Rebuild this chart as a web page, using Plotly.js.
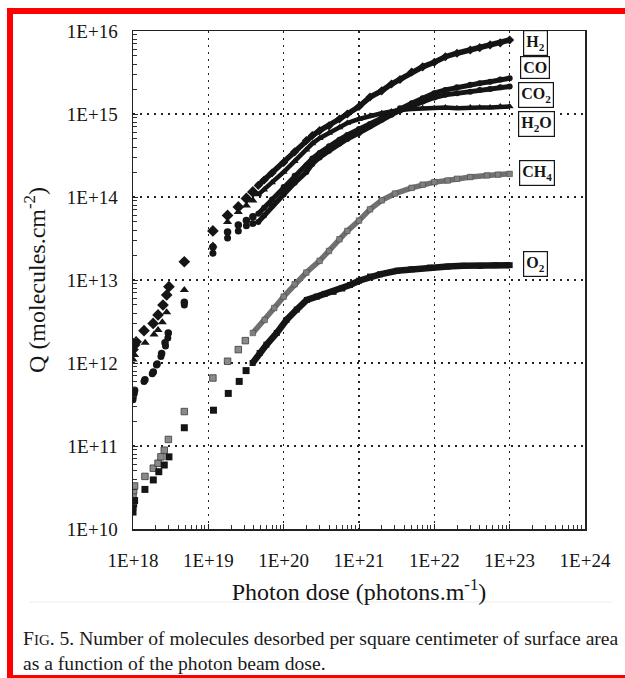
<!DOCTYPE html>
<html>
<head>
<meta charset="utf-8">
<script src="https://cdn.plot.ly/plotly-3.0.1.min.js"></script>
<style>
  html, body { margin: 0; padding: 0; background: #ffffff; }
  #chart { width: 625px; height: 678px; }
</style>
</head>
<body>
<div id="chart"></div>
<script>
// ---------------- data ----------------
const xTickVals = [1e18, 1e19, 1e20, 1e21, 1e22, 1e23, 1e24];
const xTickText = ['1E+18', '1E+19', '1E+20', '1E+21', '1E+22', '1E+23', '1E+24'];
const yTickVals = [1e10, 1e11, 1e12, 1e13, 1e14, 1e15, 1e16];
const yTickText = ['1E+10', '1E+11', '1E+12', '1E+13', '1E+14', '1E+15', '1E+16'];

const seriesNames = ['H2', 'CO', 'CO2', 'H2O', 'CH4', 'O2'];
const seriesLabels = ['H<sub>2</sub>', 'CO', 'CO<sub>2</sub>', 'H<sub>2</sub>O', 'CH<sub>4</sub>', 'O<sub>2</sub>'];

// H2 (diamonds)
const h2EarlyX = [1.0e18, 1.05e18, 1.1e18, 1.4e18, 1.85e18, 2.15e18, 2.5e18, 2.8e18, 3.0e18, 4.8e18, 1.15e19, 1.8e19, 2.5e19, 3.2e19, 3.9e19];
const h2EarlyY = [1.45e12, 1.65e12, 1.8e12, 2.45e12, 3.0e12, 3.8e12, 5.0e12, 6.6e12, 8.3e12, 1.66e13, 3.9e13, 6.0e13, 7.6e13, 9.6e13, 1.15e14];
const h2X = [4.6e19, 5.5e19, 7e19, 1e20, 1.4e20, 2e20, 2.4e20, 3e20, 4e20, 5.5e20, 7e20, 1e21, 1.4e21, 2e21, 2.7e21, 3.5e21, 5e21, 7e21, 1e22, 1.4e22, 2e22, 3e22, 4e22, 5.5e22, 7.5e22, 1e23];
const h2Y = [1.38e14, 1.6e14, 1.95e14, 2.6e14, 3.5e14, 4.8e14, 5.5e14, 6.3e14, 7.2e14, 8.7e14, 1.0e15, 1.23e15, 1.6e15, 1.9e15, 2.3e15, 2.6e15, 3.2e15, 3.7e15, 4.2e15, 4.9e15, 5.4e15, 5.9e15, 6.3e15, 6.8e15, 7.2e15, 7.8e15];

// CO (circles)
const coEarlyX = [1.0e18, 1.05e18, 1.44e18, 1.86e18, 2.06e18, 2.4e18, 2.66e18, 2.94e18, 4.8e18, 1.15e19, 1.8e19, 2.5e19, 3.2e19, 3.9e19];
const coEarlyY = [3.9e11, 4.7e11, 6.3e11, 7.8e11, 9.5e11, 1.3e12, 1.75e12, 2.3e12, 5.4e12, 2.5e13, 3.8e13, 4.6e13, 5.2e13, 5.8e13];
const coX = [4.6e19, 5.5e19, 7e19, 1e20, 1.4e20, 2e20, 2.4e20, 3e20, 4e20, 5.5e20, 7e20, 1e21, 1.4e21, 2e21, 2.7e21, 3.5e21, 5e21, 7e21, 1e22, 1.4e22, 2e22, 3e22, 4e22, 5.5e22, 7.5e22, 1e23];
const coY = [6.3e13, 7.4e13, 9.3e13, 1.32e14, 1.8e14, 2.4e14, 2.9e14, 3.4e14, 4.1e14, 4.9e14, 5.6e14, 6.6e14, 7.6e14, 9.1e14, 1.05e15, 1.17e15, 1.35e15, 1.55e15, 1.78e15, 1.95e15, 2.1e15, 2.25e15, 2.35e15, 2.45e15, 2.6e15, 2.7e15];

// CO2 (circles)
const co2EarlyX = [1.0e18, 1.04e18, 1.4e18, 1.8e18, 2.1e18, 2.35e18, 2.7e18, 2.9e18, 4.8e18, 1.15e19, 1.8e19, 2.5e19, 3.2e19, 3.9e19];
const co2EarlyY = [3.6e11, 4.3e11, 6.0e11, 7.4e11, 9.8e11, 1.2e12, 1.6e12, 2.0e12, 5.0e12, 2.1e13, 3.2e13, 3.9e13, 4.5e13, 4.8e13];
const co2X = [4.6e19, 5.5e19, 7e19, 1e20, 1.4e20, 2e20, 2.4e20, 3e20, 4e20, 5.5e20, 7e20, 1e21, 1.4e21, 2e21, 2.7e21, 3.5e21, 5e21, 7e21, 1e22, 1.4e22, 2e22, 3e22, 4e22, 5.5e22, 7.5e22, 1e23];
const co2Y = [5.0e13, 6.0e13, 7.8e13, 1.07e14, 1.48e14, 2.0e14, 2.5e14, 3.0e14, 3.6e14, 4.4e14, 5.0e14, 5.9e14, 7.1e14, 8.5e14, 9.8e14, 1.1e15, 1.26e15, 1.41e15, 1.58e15, 1.7e15, 1.78e15, 1.86e15, 1.95e15, 2.0e15, 2.1e15, 2.14e15];

// H2O (triangles)
const h2oEarlyX = [1.0e18, 1.05e18, 1.45e18, 1.9e18, 2.15e18, 2.45e18, 2.8e18, 4.8e18, 1.15e19, 1.8e19, 2.5e19, 3.2e19, 3.9e19];
const h2oEarlyY = [1.1e12, 1.25e12, 1.75e12, 2.2e12, 2.5e12, 3.1e12, 4.1e12, 7.6e12, 2.6e13, 5.0e13, 6.6e13, 7.9e13, 9.1e13];
const h2oX = [4.6e19, 5.5e19, 7e19, 1e20, 1.4e20, 2e20, 2.4e20, 3e20, 4e20, 5.5e20, 7e20, 1e21, 1.4e21, 2e21, 2.7e21, 3.5e21, 5e21, 7e21, 1e22, 1.4e22, 2e22, 3e22, 4e22, 5.5e22, 7.5e22, 1e23];
const h2oY = [1.07e14, 1.22e14, 1.5e14, 2.0e14, 2.7e14, 3.7e14, 4.4e14, 5.1e14, 5.9e14, 6.9e14, 7.8e14, 8.7e14, 9.5e14, 1.02e15, 1.07e15, 1.12e15, 1.15e15, 1.17e15, 1.17e15, 1.2e15, 1.17e15, 1.2e15, 1.2e15, 1.2e15, 1.23e15, 1.23e15];

// CH4 (grey squares)
const ch4EarlyX = [1.0e18, 1.02e18, 1.05e18, 1.44e18, 1.86e18, 2.15e18, 2.35e18, 2.6e18, 2.95e18, 4.8e18, 1.15e19, 1.8e19, 2.5e19, 3.1e19];
const ch4EarlyY = [2.5e10, 2.9e10, 3.3e10, 4.3e10, 5.4e10, 6.2e10, 7.4e10, 8.9e10, 1.2e11, 2.6e11, 6.6e11, 1.05e12, 1.45e12, 1.86e12];
const ch4X = [3.9e19, 5.6e19, 7.5e19, 1e20, 1.4e20, 2e20, 3e20, 4e20, 5.5e20, 7e20, 1e21, 1.4e21, 2e21, 3e21, 5e21, 7e21, 1e22, 1.5e22, 2e22, 3e22, 5e22, 7e22, 1e23];
const ch4Y = [2.3e12, 3.3e12, 4.6e12, 6.3e12, 8.9e12, 1.23e13, 1.7e13, 2.24e13, 3.1e13, 3.9e13, 5.2e13, 7.1e13, 9.1e13, 1.1e14, 1.29e14, 1.41e14, 1.51e14, 1.58e14, 1.66e14, 1.74e14, 1.82e14, 1.86e14, 1.9e14];

// O2 (black squares)
const o2EarlyX = [1.0e18, 1.0e18, 1.02e18, 1.05e18, 1.44e18, 1.86e18, 2.2e18, 2.6e18, 3.0e18, 4.8e18, 1.17e19, 1.84e19, 2.57e19, 3.17e19];
const o2EarlyY = [1.6e10, 1.85e10, 2.0e10, 2.2e10, 3.0e10, 3.9e10, 4.9e10, 5.9e10, 7.4e10, 1.66e11, 2.7e11, 4.3e11, 6.0e11, 8.1e11];
const o2X = [3.87e19, 4.8e19, 5.9e19, 8.1e19, 1.09e20, 1.49e20, 2.03e20, 2.75e20, 3.5e20, 4.6e20, 6e20, 7.6e20, 1e21, 1.4e21, 1.9e21, 3.2e21, 5e21, 8.7e21, 1.5e22, 2.4e22, 4e22, 6.5e22, 1e23];
const o2Y = [1.0e12, 1.32e12, 1.66e12, 2.3e12, 3.3e12, 4.4e12, 5.75e12, 6.3e12, 6.8e12, 7.2e12, 7.9e12, 8.7e12, 9.8e12, 1.1e13, 1.17e13, 1.29e13, 1.35e13, 1.41e13, 1.45e13, 1.48e13, 1.48e13, 1.51e13, 1.51e13];

// ---------------- layout geometry (pixels) ----------------
const W = 625, H = 678;
const L = 133, T = 31, PW = 452, PH = 498;
const PX = px => (px - L) / PW;
const PY = py => (T + PH - py) / PH;
const SERIF = 'Liberation Serif, Times New Roman, serif';
const INK = '#151515';

function early(x, y, name, marker) {
  return { x: x, y: y, name: name, type: 'scatter', mode: 'markers',
           marker: marker, showlegend: false, hoverinfo: 'x+y+name' };
}
function run(x, y, name, marker, lineColor, lineWidth) {
  return { x: x, y: y, name: name, type: 'scatter', mode: 'lines+markers',
           marker: marker, line: { color: lineColor, width: lineWidth },
           showlegend: false, hoverinfo: 'x+y+name' };
}

const mH2 = { symbol: 'diamond', size: 9, color: INK };
const mCO = { symbol: 'circle', size: 7.5, color: INK };
const mCO2 = { symbol: 'circle', size: 7, color: INK };
const mH2O = { symbol: 'triangle-up', size: 8, color: INK };
const mCH4 = { symbol: 'square', size: 6.5, color: '#8a8a8a', line: { color: '#3a3a3a', width: 0.8 } };
const mO2 = { symbol: 'square', size: 7, color: INK };

const rH2 = { symbol: 'diamond', size: 7, color: INK };
const rCO = { symbol: 'circle', size: 6, color: INK };
const rCO2 = { symbol: 'circle', size: 6, color: INK };
const rH2O = { symbol: 'triangle-up', size: 7, color: INK };
const rCH4 = { symbol: 'square', size: 5.5, color: '#808080', line: { color: '#4a4a4a', width: 0.6 } };
const rO2 = { symbol: 'square', size: 6, color: INK };

const traces = [
  run(ch4X, ch4Y, seriesNames[4], rCH4, '#707070', 5.5),
  early(ch4EarlyX, ch4EarlyY, seriesNames[4], mCH4),
  run(o2X, o2Y, seriesNames[5], rO2, INK, 6.5),
  early(o2EarlyX, o2EarlyY, seriesNames[5], mO2),
  run(co2X, co2Y, seriesNames[2], rCO2, INK, 5),
  early(co2EarlyX, co2EarlyY, seriesNames[2], mCO2),
  run(coX, coY, seriesNames[1], rCO, INK, 5),
  early(coEarlyX, coEarlyY, seriesNames[1], mCO),
  run(h2oX, h2oY, seriesNames[3], rH2O, INK, 4.5),
  early(h2oEarlyX, h2oEarlyY, seriesNames[3], mH2O),
  run(h2X, h2Y, seriesNames[0], rH2, INK, 5.5),
  early(h2EarlyX, h2EarlyY, seriesNames[0], mH2)
];

// series label boxes (positions in log10 axis units)
const labelPos = [
  [23.34, 15.85], [23.34, 15.56], [23.35, 15.23], [23.35, 14.88], [23.36, 14.29], [23.34, 13.19]
];
const annotations = seriesLabels.map((t, i) => ({
  x: labelPos[i][0], y: labelPos[i][1], xref: 'x', yref: 'y',
  text: '<b>' + t + '</b>', showarrow: false,
  font: { family: SERIF, size: 16, color: INK },
  bordercolor: INK, borderwidth: 1.2, borderpad: 2, bgcolor: '#ffffff'
}));

annotations.push({
  xref: 'paper', yref: 'paper', x: PX(21), y: PY(626), xanchor: 'left', yanchor: 'top',
  align: 'left', showarrow: false,
  text: 'F<span style="font-size:15px">IG</span>. 5. Number of molecules desorbed per square centimeter of surface area<br>as a function of the photon beam dose.',
  font: { family: SERIF, size: 19.6, color: '#1a1a1a' }
});

const shapes = [
  // red frame of the screenshot (top, left, bottom)
  { type: 'rect', xref: 'paper', yref: 'paper', x0: PX(7), x1: PX(640), y0: PY(14), y1: PY(8), fillcolor: '#ff0000', line: { width: 0 } },
  { type: 'rect', xref: 'paper', yref: 'paper', x0: PX(7), x1: PX(13), y0: PY(690), y1: PY(8), fillcolor: '#ff0000', line: { width: 0 } },
  { type: 'rect', xref: 'paper', yref: 'paper', x0: PX(7), x1: PX(640), y0: PY(690), y1: PY(675), fillcolor: '#ff0000', line: { width: 0 } },
  // faint separator of the scanned figure
  { type: 'line', xref: 'paper', yref: 'paper', x0: PX(30), x1: PX(612), y0: PY(602), y1: PY(602), line: { color: '#ececec', width: 1 } }
];

const axisCommon = {
  type: 'log', showgrid: true, gridcolor: '#222', gridwidth: 1.3, griddash: '2px,5px',
  showline: true, linecolor: '#222', linewidth: 1.5, mirror: true,
  ticks: 'inside', ticklen: 5, tickcolor: '#222', tickwidth: 1,
  minor: { ticks: 'inside', ticklen: 4, tickcolor: '#333', tickwidth: 1, dtick: 'D1', showgrid: false },
  tickfont: { family: SERIF, size: 19, color: INK },
  zeroline: false, automargin: false
};

const layout = {
  width: W, height: H,
  margin: { l: L, r: W - L - PW, t: T, b: H - T - PH, pad: 0 },
  paper_bgcolor: '#ffffff', plot_bgcolor: '#ffffff',
  showlegend: false,
  xaxis: Object.assign({}, axisCommon, {
    range: [18, 24], tickvals: xTickVals, ticktext: xTickText,
    ticklabelstandoff: 14,
    title: { text: 'Photon dose (photons.m<sup>-1</sup>)', font: { family: SERIF, size: 24, color: INK }, standoff: 13 }
  }),
  yaxis: Object.assign({}, axisCommon, {
    range: [10, 16], tickvals: yTickVals, ticktext: yTickText,
    ticklabelstandoff: 10,
    title: { text: 'Q (molecules.cm<sup>-2</sup>)', font: { family: SERIF, size: 24, color: INK }, standoff: 14 }
  }),
  annotations: annotations,
  shapes: shapes
};

Plotly.newPlot('chart', traces, layout, { displayModeBar: false, staticPlot: true });
</script>
</body>
</html>
